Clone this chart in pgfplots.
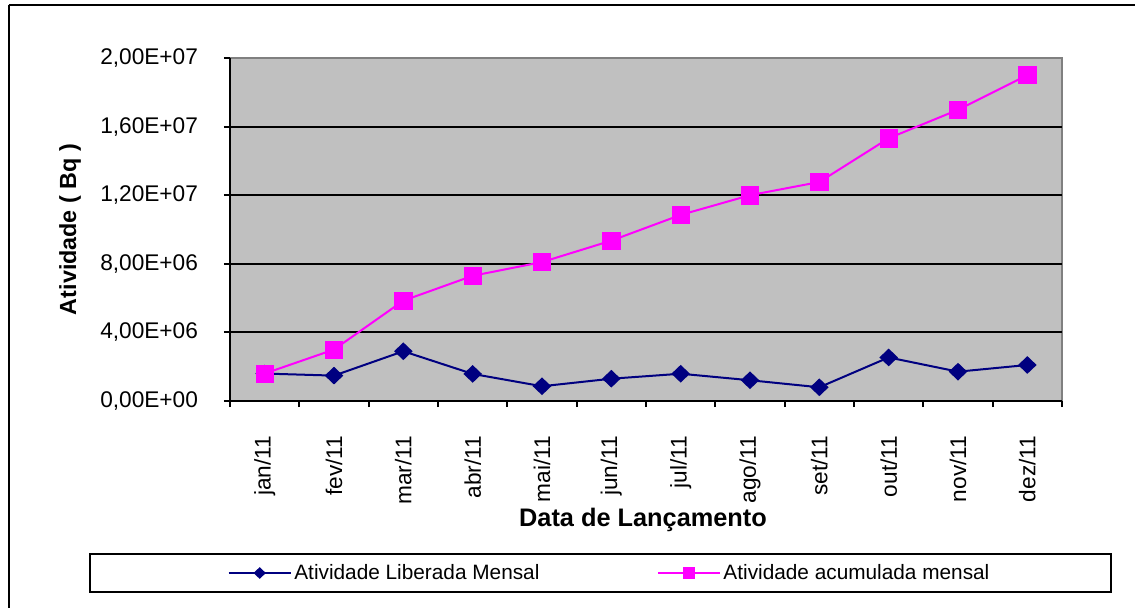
\documentclass[border=0pt]{standalone}
\usepackage{pgfplots}
\pgfplotsset{compat=1.18}
\usepackage{pgfplotstable}
\usepackage{fontspec}
\setmainfont{Liberation Sans}

\definecolor{plotgray}{HTML}{C0C0C0}
\definecolor{bordergray}{HTML}{808080}
\definecolor{serieblue}{HTML}{000080}
\definecolor{seriepink}{HTML}{FF00FF}

% monthly released activity and running total (Bq)
\pgfplotstableread{
idx mensal acumulada
0  1.60e6  1.60e6
1  1.48e6  3.00e6
2  2.90e6  5.85e6
3  1.58e6  7.30e6
4  0.86e6  8.10e6
5  1.30e6  9.35e6
6  1.59e6  10.85e6
7  1.21e6  12.00e6
8  0.80e6  12.77e6
9  2.54e6  15.32e6
10 1.71e6  16.98e6
11 2.10e6  19.00e6
}\datatable

\begin{document}
\begin{tikzpicture}[x=0.75pt,y=0.75pt]
\useasboundingbox (0,0) rectangle (1135,607);
% outer chart frame
\draw[line width=1.5pt] (8.5,601.5) -- (8.5,-10);
\draw[line width=1.5pt] (8.5,601.5) -- (1150,601.5);
% legend frame
\draw[line width=1.8pt] (90,53) rectangle (1111,15);

\begin{axis}[
  at={(172.5pt,154.5pt)}, anchor=south west,
  scale only axis,
  width=624pt, height=257.25pt,
  xmin=-0.5, xmax=11.5,
  ymin=0, ymax=2e7,
  scaled y ticks=false,
  axis background/.style={fill=plotgray, draw=bordergray, line width=1.2pt},
  axis x line*=bottom, axis y line*=left,
  axis line style={line width=1.5pt, black, -},
  xtick={0,...,11},
  xticklabels={jan/11,fev/11,mar/11,abr/11,mai/11,jun/11,jul/11,ago/11,set/11,out/11,nov/11,dez/11},
  minor xtick={-0.5,0.5,...,11.5},
  major x tick style={draw=none},
  minor x tick style={line width=1.5pt, black},
  ytick={0,4e6,8e6,1.2e7,1.6e7,2e7},
  yticklabels={{0,00E+00},{4,00E+06},{8,00E+06},{1,20E+07},{1,60E+07},{2,00E+07}},
  ytick style={line width=1.5pt, black},
  tick align=outside,
  major tick length=4.5pt, minor tick length=4.5pt,
  extra y ticks={4e6,8e6,1.2e7,1.6e7},
  extra y tick labels={},
  extra y tick style={grid=major, major tick length=0pt},
  grid style={line width=1.5pt, black},
  ticklabel style={font=\fontsize{17}{20}\selectfont},
  xticklabel style={rotate=90, anchor=east},
  xticklabel shift=18pt,
  yticklabel style={anchor=east},
  yticklabel shift=16pt,
  xlabel={\bfseries Data de Lançamento},
  ylabel={\bfseries Atividade ( Bq )},
  xlabel style={font=\fontsize{19}{22}\selectfont, at={(axis description cs:0.4964,-0.347)}, anchor=center},
  ylabel style={font=\fontsize{17.5}{20}\selectfont, at={(axis description cs:-0.1923,0.5)}, anchor=center},
  legend columns=2,
  legend style={draw=none, fill=none, at={(axis description cs:0.4566,-0.5015)},
    anchor=center, font=\fontsize{15.6}{18}\selectfont, inner sep=0pt,
    /tikz/every even column/.append style={column sep=86pt}},
  legend image code/.code={%
    \draw[#1, mark repeat=2, mark phase=2, every mark/.append style={scale=0.6}]
      plot coordinates {(0pt,0pt) (23.25pt,0pt) (46.5pt,0pt)};},
  clip=false,
]
\addplot[serieblue, line width=1.5pt, mark=diamond*, mark size=5.6pt,
  mark options={xscale=1.4, fill=serieblue, draw=serieblue}]
  table[x=idx, y=mensal] {\datatable};
\addlegendentry{Atividade Liberada Mensal}
\addplot[seriepink, line width=1.5pt, mark=square*, mark size=6.5pt,
  mark options={fill=seriepink, draw=seriepink, line width=0.5pt}]
  table[x=idx, y=acumulada] {\datatable};
\addlegendentry{Atividade acumulada mensal}
\end{axis}
\end{tikzpicture}
\end{document}
